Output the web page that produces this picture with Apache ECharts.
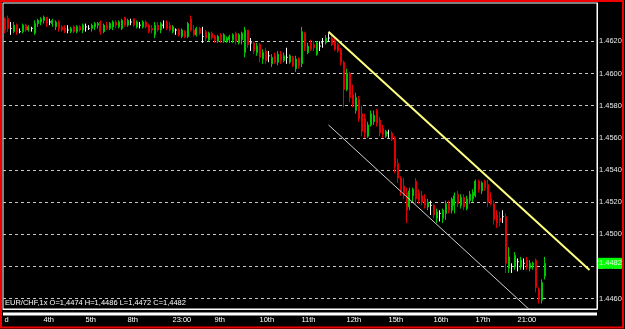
<!DOCTYPE html>
<html><head><meta charset="utf-8">
<script src="https://cdn.jsdelivr.net/npm/echarts@6/dist/echarts.min.js"></script>
<style>html,body{margin:0;padding:0;background:#000;}#c{width:625px;height:329px;}</style>
</head><body><div id="c"></div>
<script>
// EUR/CHF bars (open, high, low, close)
const opens = [
1.4634,1.4634,1.4628,1.4626,1.4630,1.4626,1.4626,1.4630,1.4627,1.4628,
1.4625,1.4631,1.4632,1.4633,1.4635,1.4632,1.4631,1.4629,1.4632,1.4629,
1.4628,1.4627,1.4626,1.4629,1.4626,1.4629,1.4627,1.4629,1.4628,1.4628,
1.4629,1.4630,1.4632,1.4626,1.4630,1.4628,1.4629,1.4632,1.4629,1.4628,
1.4635,1.4630,1.4632,1.4634,1.4629,1.4630,1.4629,1.4632,1.4630,1.4628,
1.4624,1.4630,1.4627,1.4630,1.4632,1.4630,1.4626,1.4627,1.4627,1.4623,
1.4626,1.4623,1.4634,1.4627,1.4624,1.4628,1.4623,1.4626,1.4621,1.4625,
1.4623,1.4620,1.4624,1.4620,1.4620,1.4621,1.4621,1.4625,1.4619,1.4621,
1.4613,1.4627,1.4619,1.4619,1.4613,1.4618,1.4609,1.4614,1.4611,1.4606,
1.4611,1.4607,1.4612,1.4608,1.4610,1.4607,1.4610,1.4603,1.4609,1.4606,
1.4625,1.4613,1.4619,1.4618,1.4612,1.4617,1.4619,1.4619,1.4622,1.4622,
1.4620,1.4618,1.4615,1.4607,1.4590,1.4600,1.4587,1.4577,1.4584,1.4575,
1.4572,1.4561,1.4568,1.4570,1.4577,1.4571,1.4566,1.4561,1.4563,1.4563,
1.4560,1.4544,1.4535,1.4530,1.4526,1.4517,1.4524,1.4533,1.4526,1.4524,
1.4522,1.4517,1.4518,1.4518,1.4510,1.4513,1.4510,1.4513,1.4519,1.4515,
1.4518,1.4525,1.4518,1.4523,1.4516,1.4521,1.4522,1.4524,1.4533,1.4527,
1.4533,1.4531,1.4522,1.4519,1.4512,1.4510,1.4511,1.4511,1.4479,1.4480,
1.4480,1.4483,1.4480,1.4482,1.4484,1.4479,1.4481,1.4484,1.4466,1.4459,1.4474];
const highs = [
1.4635,1.4636,1.4632,1.4632,1.4631,1.4628,1.4631,1.4631,1.4630,1.4629,
1.4633,1.4634,1.4635,1.4636,1.4635,1.4634,1.4634,1.4633,1.4633,1.4630,
1.4630,1.4630,1.4629,1.4630,1.4630,1.4630,1.4631,1.4631,1.4630,1.4631,
1.4632,1.4632,1.4633,1.4631,1.4632,1.4632,1.4633,1.4633,1.4633,1.4634,
1.4635,1.4634,1.4634,1.4634,1.4633,1.4632,1.4633,1.4633,1.4631,1.4630,
1.4632,1.4632,1.4632,1.4633,1.4633,1.4632,1.4630,1.4628,1.4628,1.4628,
1.4627,1.4632,1.4636,1.4630,1.4629,1.4629,1.4629,1.4627,1.4626,1.4626,
1.4624,1.4624,1.4625,1.4625,1.4623,1.4624,1.4625,1.4626,1.4625,1.4626,
1.4629,1.4627,1.4622,1.4620,1.4619,1.4619,1.4615,1.4616,1.4614,1.4612,
1.4613,1.4614,1.4614,1.4613,1.4616,1.4612,1.4611,1.4611,1.4610,1.4629,
1.4626,1.4619,1.4621,1.4620,1.4620,1.4620,1.4622,1.4624,1.4625,1.4624,
1.4622,1.4619,1.4616,1.4608,1.4603,1.4601,1.4593,1.4588,1.4586,1.4580,
1.4575,1.4570,1.4577,1.4577,1.4578,1.4573,1.4568,1.4565,1.4565,1.4564,
1.4561,1.4547,1.4536,1.4535,1.4529,1.4529,1.4529,1.4535,1.4528,1.4527,
1.4525,1.4522,1.4521,1.4519,1.4516,1.4515,1.4516,1.4521,1.4521,1.4523,
1.4526,1.4527,1.4525,1.4525,1.4524,1.4527,1.4528,1.4534,1.4534,1.4533,
1.4534,1.4534,1.4526,1.4521,1.4515,1.4514,1.4515,1.4513,1.4492,1.4482,
1.4489,1.4485,1.4486,1.4485,1.4486,1.4484,1.4483,1.4485,1.4467,1.4472,1.4486];
const lows = [
1.4625,1.4626,1.4624,1.4625,1.4624,1.4625,1.4625,1.4626,1.4626,1.4626,
1.4624,1.4629,1.4630,1.4631,1.4629,1.4630,1.4629,1.4627,1.4626,1.4626,
1.4625,1.4625,1.4625,1.4625,1.4625,1.4626,1.4625,1.4626,1.4627,1.4626,
1.4627,1.4628,1.4624,1.4625,1.4627,1.4627,1.4627,1.4628,1.4628,1.4627,
1.4629,1.4629,1.4630,1.4629,1.4628,1.4628,1.4628,1.4628,1.4625,1.4625,
1.4622,1.4626,1.4625,1.4628,1.4627,1.4626,1.4625,1.4624,1.4623,1.4622,
1.4622,1.4622,1.4626,1.4623,1.4623,1.4624,1.4619,1.4620,1.4620,1.4621,
1.4619,1.4619,1.4619,1.4619,1.4619,1.4619,1.4619,1.4618,1.4618,1.4618,
1.4610,1.4616,1.4614,1.4612,1.4611,1.4607,1.4606,1.4606,1.4607,1.4604,
1.4606,1.4605,1.4606,1.4607,1.4606,1.4606,1.4604,1.4601,1.4603,1.4604,
1.4614,1.4612,1.4614,1.4614,1.4611,1.4614,1.4616,1.4618,1.4620,1.4617,
1.4614,1.4613,1.4605,1.4579,1.4589,1.4582,1.4579,1.4575,1.4570,1.4561,
1.4560,1.4560,1.4567,1.4568,1.4567,1.4561,1.4560,1.4560,1.4560,1.4558,
1.4538,1.4532,1.4524,1.4522,1.4507,1.4515,1.4520,1.4519,1.4519,1.4518,
1.4516,1.4515,1.4512,1.4510,1.4507,1.4508,1.4507,1.4509,1.4513,1.4513,
1.4513,1.4517,1.4516,1.4515,1.4515,1.4519,1.4520,1.4523,1.4526,1.4525,
1.4527,1.4517,1.4518,1.4506,1.4504,1.4505,1.4507,1.4476,1.4476,1.4476,
1.4478,1.4477,1.4478,1.4478,1.4478,1.4477,1.4478,1.4464,1.4457,1.4457,1.4472];
const closes = [
1.4627,1.4628,1.4628,1.4630,1.4626,1.4626,1.4630,1.4627,1.4629,1.4628,
1.4631,1.4633,1.4634,1.4635,1.4631,1.4632,1.4633,1.4632,1.4628,1.4627,
1.4626,1.4627,1.4628,1.4626,1.4629,1.4627,1.4630,1.4629,1.4628,1.4630,
1.4631,1.4631,1.4626,1.4630,1.4628,1.4631,1.4632,1.4630,1.4632,1.4633,
1.4630,1.4633,1.4632,1.4630,1.4632,1.4630,1.4632,1.4629,1.4626,1.4627,
1.4630,1.4627,1.4631,1.4630,1.4628,1.4627,1.4629,1.4627,1.4624,1.4627,
1.4623,1.4631,1.4627,1.4624,1.4628,1.4625,1.4623,1.4622,1.4625,1.4622,
1.4621,1.4623,1.4621,1.4624,1.4622,1.4623,1.4624,1.4620,1.4624,1.4625,
1.4627,1.4618,1.4619,1.4614,1.4617,1.4610,1.4613,1.4608,1.4611,1.4610,
1.4607,1.4612,1.4608,1.4611,1.4610,1.4611,1.4605,1.4609,1.4605,1.4626,
1.4617,1.4617,1.4615,1.4616,1.4619,1.4617,1.4619,1.4622,1.4622,1.4618,
1.4615,1.4614,1.4607,1.4590,1.4600,1.4585,1.4581,1.4585,1.4572,1.4564,
1.4563,1.4568,1.4575,1.4574,1.4569,1.4563,1.4562,1.4564,1.4563,1.4559,
1.4542,1.4535,1.4527,1.4524,1.4515,1.4527,1.4528,1.4522,1.4521,1.4520,
1.4518,1.4520,1.4518,1.4512,1.4514,1.4513,1.4515,1.4519,1.4515,1.4522,
1.4524,1.4519,1.4523,1.4517,1.4522,1.4525,1.4526,1.4533,1.4528,1.4532,
1.4529,1.4520,1.4519,1.4509,1.4507,1.4508,1.4511,1.4482,1.4486,1.4480,
1.4487,1.4483,1.4484,1.4482,1.4480,1.4482,1.4482,1.4467,1.4460,1.4470,1.4482];

const symbolName = 'EUR/CHF,1x';
const barCount = 198;                 // visible bar slots incl. right shift
const dayLabels = ['d','4th','5th','8th','23:00','9th','10th','11th','12th','15th','16th','17th','21:00'];
const dayLabelBars = [0,13,27,41,56,70,85,99,114,128,143,157,171];
const priceTicks = [1.4460,1.4480,1.4500,1.4520,1.4540,1.4560,1.4580,1.4600,1.4620];
const upperTrend = [[108,1.46259],[195,1.44779]];
const lowerTrend = [[108,1.45680],[180,1.44446]];

const FONT = 'Liberation Sans';
const cats = Array.from({length: barCount}, (_, i) => String(i));
const labelAt = {};
dayLabelBars.forEach((b, k) => { labelAt[b] = dayLabels[k]; });
const candles = opens.map((o, i) => [o, closes[i], lows[i], highs[i]]);
const last = opens.length - 1;
const fmtC = v => v.toFixed(4).replace('.', ',');
const info = symbolName + ' O=' + fmtC(opens[last]) + ' H=' + fmtC(highs[last]) +
             ' L=' + fmtC(lows[last]) + ' C=' + fmtC(closes[last]);

const chart = echarts.init(document.getElementById('c'), null, {renderer: 'canvas'});
chart.setOption({
  backgroundColor: '#000',
  animation: false,
  grid: {left: 3, right: 28, top: 3, bottom: 20, show: true, borderColor: '#ffffff', borderWidth: 1},
  title: {text: info, left: 5, top: 298.5, padding: 0,
    textStyle: {color: '#ffffff', fontSize: 7.5, fontWeight: 'normal', fontFamily: FONT}},
  xAxis: {
    type: 'category', data: cats, boundaryGap: true,
    axisLine: {show: true, lineStyle: {color: '#ffffff'}},
    axisTick: {show: false}, splitLine: {show: false},
    axisLabel: {
      interval: (i) => labelAt[i] !== undefined,
      formatter: (v, i) => labelAt[i] || '',
      align: 'left', color: '#ffffff', fontSize: 7.5, fontFamily: FONT, margin: 7
    }
  },
  yAxis: {
    type: 'value', position: 'right', min: 1.44536, max: 1.46438, scale: true,
    splitLine: {show: false},
    axisLine: {show: true, lineStyle: {color: '#ffffff'}},
    axisTick: {show: false},
    axisLabel: {customValues: priceTicks, formatter: v => v.toFixed(4),
      color: '#e8e8e8', fontSize: 7.5, fontFamily: FONT, margin: 2}
  },
  series: [
    {type: 'line', data: [], silent: true, z: 1,
     markLine: {silent: true, symbol: ['none', 'none'], z: 1, animation: false, precision: 6,
       label: {show: false},
       lineStyle: {color: '#c8c8c8', type: [3, 3], width: 1},
       data: priceTicks.map(v => ({yAxis: v}))}},
    {type: 'candlestick', data: candles, z: 3, barWidth: 1.5,
     itemStyle: {color: '#00ff00', color0: '#ff0000', borderColor: '#00c800',
       borderColor0: '#e00000', borderColorDoji: '#ffffff', borderWidth: 1},
     markLine: {silent: true, symbol: ['none', 'none'], z: 6, animation: false, precision: 6,
       lineStyle: {color: 'rgba(0,0,0,0)', width: 1, type: 'solid'},
       label: {show: true, position: 'end', distance: 1,
         formatter: p => Number(p.value).toFixed(4),
         backgroundColor: '#00ff00', color: '#d8ffd8', fontSize: 7.5, fontFamily: FONT,
         padding: [1, 1], lineHeight: 9},
       data: [{yAxis: closes[last]}]}},
    {type: 'line', data: upperTrend, z: 4, symbol: 'none', silent: true,
     lineStyle: {color: '#ffff80', width: 2}},
    {type: 'line', data: lowerTrend, z: 4, symbol: 'none', silent: true,
     lineStyle: {color: '#d0d0d0', width: 1}}
  ],
  graphic: [
    {type: 'rect', z: 100, silent: true, shape: {x: 3, y: 312.5, width: 594, height: 3},
     style: {fill: '#ffffff'}},
    {type: 'rect', z: 100, silent: true, shape: {x: 1, y: 1, width: 622, height: 326.5},
     style: {fill: null, stroke: '#f00000', lineWidth: 2}}
  ]
});
</script>
</body></html>
